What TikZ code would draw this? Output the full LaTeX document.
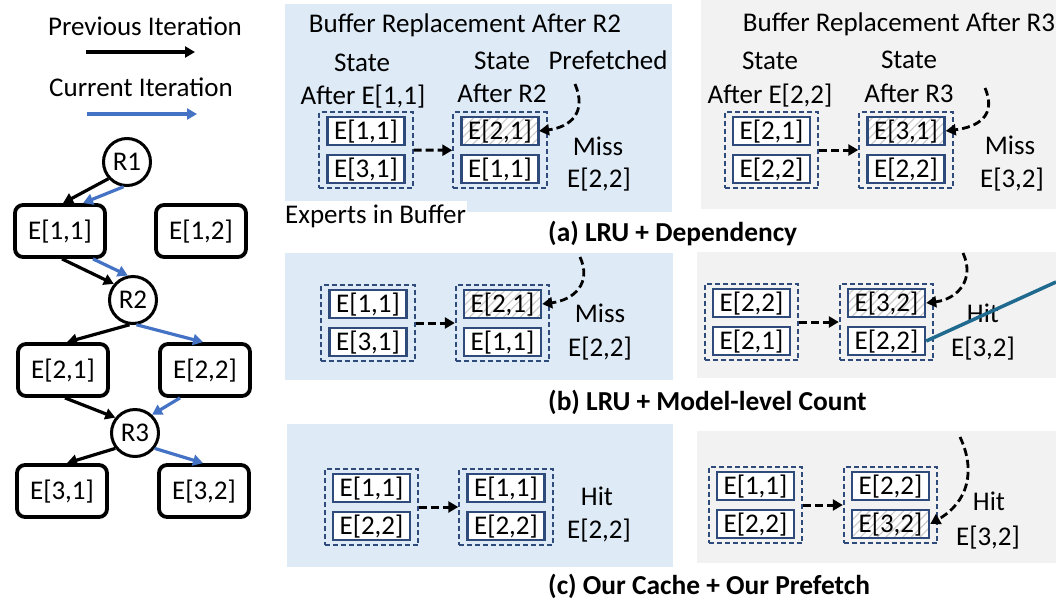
\documentclass[tikz,border=0pt]{standalone}
\usepackage{fontspec}
\setmainfont{Carlito}
\usetikzlibrary{arrows.meta,patterns.meta,fit}

\definecolor{iterblue}{HTML}{4472C4}
\definecolor{panelblue}{HTML}{DEEBF7}
\definecolor{panelgray}{HTML}{F2F2F2}
\definecolor{bufnavy}{HTML}{2F4B7C}
\definecolor{linkteal}{HTML}{1F6A8E}

\tikzset{
  lbl/.style={inner sep=0pt, text height=17.5pt, text depth=0pt},
  treebox/.style={draw, line width=3.8pt, rounded corners=8pt, minimum width=90pt,
    minimum height=52pt, inner sep=0pt, text height=17.5pt, text depth=0pt},
  router/.style={circle, draw, line width=3pt, minimum size=47pt, inner sep=0pt,
    text height=17.5pt, text depth=0pt},
  prevarrow/.style={line width=3.2pt, -{Triangle[length=10pt,width=11pt]}},
  currarrow/.style={iterblue, line width=3.2pt, -{Triangle[length=10pt,width=11pt]}},
  expert/.style={draw=bufnavy, line width=2.4pt, fill=white, minimum width=77pt,
    minimum height=28pt, inner sep=0pt, text height=17.5pt, text depth=0pt},
  prefetched/.style={expert, preaction={fill=white},
    pattern={Lines[angle=45,distance=6pt,line width=1.2pt]}, pattern color=black!20},
  buffer/.style={draw=bufnavy, line width=2pt, dash pattern=on 5pt off 3pt,
    inner xsep=7pt, inner ysep=4pt},
  bufmove/.style={line width=3pt, dash pattern=on 8pt off 4pt,
    -{Triangle[length=10pt,width=11pt]}},
  fetch/.style={line width=2.8pt, dash pattern=on 8pt off 4pt,
    -{Triangle[length=10pt,width=11pt]}},
  caption/.style={lbl, anchor=west, font=\fontsize{27.4}{33}\selectfont\bfseries},
}

\begin{document}
\begin{tikzpicture}[x=1pt, y=-1pt, font=\fontsize{27}{32}\selectfont]
\useasboundingbox (0,0) rectangle (1056,600);

% ---------- background panels ----------
\fill[panelblue] (285,4) rectangle (672,212);
\fill[panelgray] (701,0) rectangle (1056,209);
\fill[panelblue] (285,253) rectangle (673,380);
\fill[panelgray] (697,252) rectangle (1056,378);
\fill[panelblue] (287,424) rectangle (673,567);
\fill[panelgray] (697,431) rectangle (1056,563);

% ---------- legend ----------
\node[lbl] (legprev) at (145,27) {Previous Iteration};
\coordinate (lp0) at (86,52);
\coordinate (lp1) at (195,52);
\draw[prevarrow] (lp0) -- (lp1);
\node[lbl] (legcurr) at (141,88) {Current Iteration};
\coordinate (lc0) at (87,114);
\coordinate (lc1) at (197,114);
\draw[currarrow] (lc0) -- (lc1);

% ---------- routing tree ----------
\node[router] (R1) at (127,162) {R1};
\node[treebox] (E11) at (60,231) {E[1,1]};
\node[treebox] (E12) at (201,231) {E[1,2]};
\node[router] (R2) at (133,300) {R2};
\node[treebox] (E21) at (63,370) {E[2,1]};
\node[treebox] (E22) at (205,370) {E[2,2]};
\node[router] (R3) at (135,433) {R3};
\node[treebox] (E31) at (62,491) {E[3,1]};
\node[treebox] (E32) at (204,491) {E[3,2]};

\draw[prevarrow] (R1.222) -- ([xshift=3pt]E11.north);
\draw[currarrow] (R1.262) -- ([xshift=23pt]E11.north);
\draw[prevarrow] ([xshift=2pt]E11.south) -- (R2.140);
\draw[currarrow] ([xshift=33pt]E11.south) -- (R2.102);
\draw[prevarrow] (R2.262) -- ([xshift=4pt]E21.north);
\draw[currarrow] (R2.278) -- ([xshift=-2pt]E22.north);
\draw[prevarrow] ([xshift=2pt]E21.south) -- (R3.142);
\draw[currarrow] ([xshift=-25pt]E22.south) -- (R3.47);
\draw[prevarrow] (R3.218) -- ([xshift=5pt]E31.north);
\draw[currarrow] (R3.322) -- ([xshift=-1pt]E32.north);

% ---------- (a) LRU + Dependency, after R2 ----------
\node[lbl] (aLtitle) at (465,24) {Buffer Replacement After R2};
\node[lbl] (aLs1) at (362,63) {State};
\node[lbl] (aLs1b) at (363,96) {After E[1,1]};
\node[lbl] (aLs2) at (502,61) {State};
\node[lbl] (aLs2b) at (502,94) {After R2};
\node[lbl] (aLpre) at (608,61) {Prefetched};
\node[expert] (aL1t) at (366,131) {E[1,1]};
\node[expert] (aL1b) at (366,169) {E[3,1]};
\node[buffer, fit=(aL1t)(aL1b)] (aL1) {};
\node[prefetched] (aL2t) at (500,131) {E[2,1]};
\node[expert] (aL2b) at (500,169) {E[1,1]};
\node[buffer, fit=(aL2t)(aL2b)] (aL2) {};
\draw[bufmove] (aL1.east) -- (aL2.west);
\coordinate (aLsrc) at (575,84);
\draw[fetch] (aLsrc) .. controls +(12,28) and +(32,-4) .. (aL2t.east);
\node[lbl] (aLmiss) at (598,147) {Miss};
\node[lbl] (aLexp) at (599,179) {E[2,2]};
\node[lbl, fill=white, inner xsep=1pt, inner ysep=5pt, anchor=west] (aLnote) at (284,215) {Experts in Buffer};

% ---------- (a) LRU + Dependency, after R3 ----------
\node[lbl] (aRtitle) at (899,23) {Buffer Replacement After R3};
\node[lbl] (aRs1) at (770,61) {State};
\node[lbl] (aRs1b) at (770,95) {After E[2,2]};
\node[lbl] (aRs2) at (909,60) {State};
\node[lbl] (aRs2b) at (909,94) {After R3};
\node[expert] (aR1t) at (771.5,131) {E[2,1]};
\node[expert] (aR1b) at (771.5,169) {E[2,2]};
\node[buffer, fit=(aR1t)(aR1b)] (aR1) {};
\node[prefetched] (aR2t) at (906,131) {E[3,1]};
\node[expert] (aR2b) at (906,169) {E[2,2]};
\node[buffer, fit=(aR2t)(aR2b)] (aR2) {};
\draw[bufmove] (aR1.east) -- (aR2.west);
\coordinate (aRsrc) at (985,88);
\draw[fetch] (aRsrc) .. controls +(12,28) and +(32,-4) .. (aR2t.east);
\node[lbl] (aRmiss) at (1010,146) {Miss};
\node[lbl] (aRexp) at (1012,179) {E[3,2]};

\node[caption] (capa) at (548,233) {(a) LRU + Dependency};

% ---------- (b) LRU + Model-level Count ----------
\node[expert] (bL1t) at (368,304) {E[1,1]};
\node[expert] (bL1b) at (368,342) {E[3,1]};
\node[buffer, fit=(bL1t)(bL1b)] (bL1) {};
\node[prefetched] (bL2t) at (502.5,304) {E[2,1]};
\node[expert] (bL2b) at (502.5,342) {E[1,1]};
\node[buffer, fit=(bL2t)(bL2b)] (bL2) {};
\draw[bufmove] (bL1.east) -- (bL2.west);
\coordinate (bLsrc) at (580,257);
\draw[fetch] (bLsrc) .. controls +(12,26) and +(32,-4) .. (bL2t.east);
\node[lbl] (bLmiss) at (600,314) {Miss};
\node[lbl] (bLexp) at (600,348) {E[2,2]};

\node[expert] (bR1t) at (751.5,303) {E[2,2]};
\node[expert] (bR1b) at (751.5,341) {E[2,1]};
\node[buffer, fit=(bR1t)(bR1b)] (bR1) {};
\node[prefetched] (bR2t) at (886.5,303) {E[3,2]};
\node[expert] (bR2b) at (886.5,341) {E[2,2]};
\node[buffer, fit=(bR2t)(bR2b)] (bR2) {};
\draw[bufmove] (bR1.east) -- (bR2.west);
\coordinate (bRsrc) at (963,253);
\draw[fetch] (bRsrc) .. controls +(12,26) and +(32,-4) .. (bR2t.east);
\node[lbl] (bRhit) at (983,314) {Hit};
\node[lbl] (bRexp) at (983,348) {E[3,2]};
\coordinate (bRlink) at (1056,282);
\draw[linkteal, line width=3.5pt] (bR2b.east) -- (bRlink);

\node[caption] (capb) at (548,402) {(b) LRU + Model-level Count};

% ---------- (c) Our Cache + Our Prefetch ----------
\node[expert] (cL1t) at (371.5,488) {E[1,1]};
\node[expert] (cL1b) at (371.5,526) {E[2,2]};
\node[buffer, fit=(cL1t)(cL1b)] (cL1) {};
\node[expert] (cL2t) at (506,488) {E[1,1]};
\node[expert] (cL2b) at (506,526) {E[2,2]};
\node[buffer, fit=(cL2t)(cL2b)] (cL2) {};
\draw[bufmove] (cL1.east) -- (cL2.west);
\node[lbl] (cLhit) at (597,497) {Hit};
\node[lbl] (cLexp) at (599,530) {E[2,2]};

\node[expert] (cR1t) at (755.5,486) {E[1,1]};
\node[expert] (cR1b) at (755.5,524) {E[2,2]};
\node[buffer, fit=(cR1t)(cR1b)] (cR1) {};
\node[expert] (cR2t) at (890.5,486) {E[2,2]};
\node[prefetched] (cR2b) at (890.5,524) {E[3,2]};
\node[buffer, fit=(cR2t)(cR2b)] (cR2) {};
\draw[bufmove] (cR1.east) -- (cR2.west);
\coordinate (cRsrc) at (960,437);
\draw[fetch] (cRsrc) .. controls +(16,34) and +(38,-22) .. (cR2b.east);
\node[lbl] (cRhit) at (989,502) {Hit};
\node[lbl] (cRexp) at (988,537) {E[3,2]};

\node[caption] (capc) at (548,586) {(c) Our Cache + Our Prefetch};
\end{tikzpicture}
\end{document}
